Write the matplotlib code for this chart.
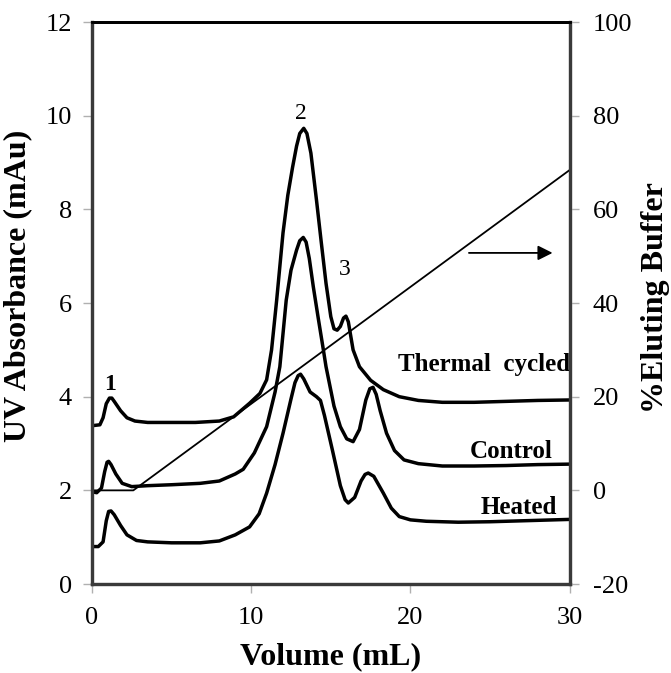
import matplotlib

matplotlib.use("Agg")
import matplotlib.pyplot as plt

plt.rcParams["font.family"] = ["Liberation Serif", "DejaVu Serif"]
plt.rcParams["axes.unicode_minus"] = False

# chromatogram traces (volume mL, absorbance mAu)
thermal_x = [0, 0.5, 0.7, 0.9, 1.1, 1.25, 1.4, 1.6, 1.8, 2.2, 2.7, 3.5, 5,
             6.5, 8, 8.9, 9.9, 10.55, 10.97, 11.28, 11.6, 12.0, 12.3, 12.6,
             12.85, 13.05, 13.3, 13.5, 13.75, 14.1, 14.4, 14.7, 15.0, 15.2,
             15.4, 15.6, 15.8, 15.95, 16.1, 16.4, 16.8, 17.5, 18.3, 19.3,
             20.5, 22, 24, 26, 28, 30]
thermal_y = [3.38, 3.40, 3.55, 3.85, 3.97, 3.97, 3.90, 3.80, 3.70, 3.55,
             3.48, 3.45, 3.45, 3.45, 3.48, 3.57, 3.86, 4.07, 4.36, 5.0, 6.06,
             7.5, 8.3, 8.9, 9.35, 9.62, 9.73, 9.62, 9.2, 8.2, 7.3, 6.42,
             5.71, 5.45, 5.42, 5.5, 5.68, 5.72, 5.6, 5.0, 4.64, 4.35, 4.15,
             4.0, 3.92, 3.88, 3.88, 3.9, 3.92, 3.93]

control_x = [0, 0.3, 0.6, 0.8, 0.95, 1.05, 1.2, 1.5, 1.9, 2.5, 3.5, 5, 6.8,
             8, 9, 9.5, 10.2, 10.97, 11.5, 11.8, 12.2, 12.5, 12.85, 13.05,
             13.27, 13.45, 13.65, 13.9, 14.2, 14.5, 14.7, 15.2, 15.6, 16.0,
             16.4, 16.8, 17.2, 17.45, 17.65, 17.85, 18.1, 18.5, 19.0, 19.6,
             20.5, 22, 24, 26, 28, 30]
control_y = [1.97, 1.95, 2.05, 2.4, 2.6, 2.62, 2.55, 2.35, 2.15, 2.08, 2.1,
             2.12, 2.15, 2.2, 2.35, 2.45, 2.8, 3.36, 4.1, 4.64, 6.06, 6.7,
             7.13, 7.33, 7.4, 7.3, 6.95, 6.35, 5.7, 5.07, 4.64, 3.8, 3.36,
             3.1, 3.04, 3.3, 3.93, 4.17, 4.2, 4.05, 3.7, 3.22, 2.85, 2.65,
             2.57, 2.52, 2.52, 2.53, 2.55, 2.56]

heated_x = [0, 0.4, 0.7, 0.9, 1.05, 1.2, 1.4, 1.8, 2.2, 2.8, 3.5, 5, 6.8, 8,
            9, 9.9, 10.5, 10.97, 11.5, 12.0, 12.5, 12.75, 12.95, 13.1, 13.3,
            13.7, 14.1, 14.35, 14.6, 15.1, 15.6, 15.9, 16.1, 16.5, 16.9,
            17.15, 17.35, 17.7, 18.3, 18.8, 19.3, 20, 21, 23, 25, 27, 30]
heated_y = [0.8, 0.8, 0.9, 1.35, 1.55, 1.56, 1.48, 1.25, 1.05, 0.93, 0.9,
            0.88, 0.88, 0.92, 1.05, 1.22, 1.5, 1.94, 2.55, 3.22, 3.95, 4.3,
            4.45, 4.48, 4.38, 4.1, 4.0, 3.92, 3.6, 2.86, 2.1, 1.8, 1.73,
            1.85, 2.2, 2.34, 2.37, 2.3, 1.94, 1.62, 1.44, 1.37, 1.34, 1.32,
            1.33, 1.35, 1.38]

# elution gradient (volume mL, % eluting buffer)
gradient_x = [0, 2.6, 30]
gradient_pct = [0, 0, 68.4]

trace_labels = ["Thermal  cycled", "Control", "Heated"]
peak_labels = ["1", "2", "3"]

fig = plt.figure(figsize=(6.71, 6.73), dpi=100)
ax = fig.add_axes([0.137, 0.1322, 0.712, 0.8351])
ax2 = ax.twinx()

for xs, ys in [(thermal_x, thermal_y), (control_x, control_y), (heated_x, heated_y)]:
    ax.plot(xs, ys, color="black", lw=2.5, solid_joinstyle="round",
            solid_capstyle="round")

ax2.plot(gradient_x, gradient_pct, color="black", lw=1.3)

ax.set_xlim(0, 30)
ax.set_ylim(0, 12)
ax2.set_ylim(-20, 100)
ax.set_xticks([0, 10, 20, 30])
ax.set_yticks(range(0, 13, 2))
ax2.set_yticks(range(-20, 101, 20))

tick_style = dict(direction="out", length=6.5, width=1, color="#b0b0b0",
                  labelsize=19, labelcolor="black")
ax.tick_params(axis="x", pad=10, **tick_style)
ax.tick_params(axis="y", pad=8, **tick_style)
ax2.tick_params(axis="y", pad=10, **tick_style)

for a in (ax, ax2):
    for side in ("left", "right", "bottom"):
        a.spines[side].set_color("#3a3a3a")
        a.spines[side].set_linewidth(2.3)
    a.spines["top"].set_color("black")
    a.spines["top"].set_linewidth(2.0)

ax.set_xlabel("Volume (mL)", fontsize=23, fontweight="bold")
ax.xaxis.set_label_coords(0.5, -0.104)
ax.set_ylabel("UV Absorbance (mAu)", fontsize=23, fontweight="bold")
ax.yaxis.set_label_coords(-0.125, 0.53)
ax2.set_ylabel("%Eluting Buffer", fontsize=23, fontweight="bold")
ax2.yaxis.set_label_coords(1.15, 0.51)

label_style = dict(fontsize=18, fontweight="bold", ha="right", va="center")
ax.text(30, 4.68, trace_labels[0], **label_style)
ax.text(28.9, 2.82, trace_labels[1], **label_style)
ax.text(29.2, 1.64, trace_labels[2], **label_style)

ax.text(1.13, 4.25, peak_labels[0], fontsize=17, fontweight="bold", ha="center", va="center")
ax.text(13.1, 10.05, peak_labels[1], fontsize=17, ha="center", va="center")
ax.text(15.9, 6.72, peak_labels[2], fontsize=17, ha="center", va="center")

ax2.annotate("", xy=(29.1, 50.7), xytext=(23.5, 50.7),
             arrowprops=dict(arrowstyle="-|>", color="black", lw=1.3,
                             mutation_scale=22))

fig.savefig("out.png", dpi=100)
